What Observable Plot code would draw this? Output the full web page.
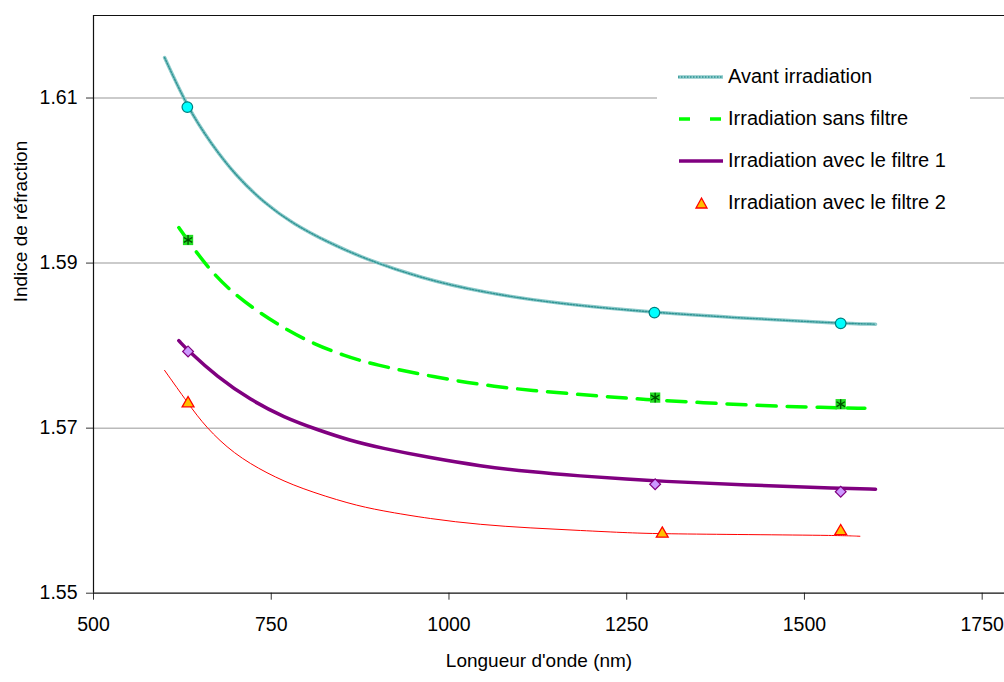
<!DOCTYPE html>
<html><head><meta charset="utf-8">
<script src="https://cdn.jsdelivr.net/npm/d3@7"></script>
<script src="https://cdn.jsdelivr.net/npm/@observablehq/plot@0.6"></script>
<style>
body{margin:0;background:#fff;font-family:"Liberation Sans",Arial,sans-serif;}
#wrap{position:relative;width:1004px;height:682px;}
#legend{position:absolute;left:657px;top:50px;width:313px;height:175px;background:#fff;}
.row{position:absolute;left:0;width:313px;height:30px;}
.row svg{position:absolute;left:0;top:0;}
.row span{position:absolute;left:71px;top:0;font-size:20px;line-height:30px;color:#000;white-space:nowrap;}
</style>
</head><body>
<div id="wrap"><div id="chart"></div><div id="legend"></div></div>
<script>
// ---- data ----
const seriesNames = ["Avant irradiation", "Irradiation sans filtre", "Irradiation avec le filtre 1", "Irradiation avec le filtre 2"];
const xTicks = [500, 750, 1000, 1250, 1500, 1750];
const yTicks = [1.55, 1.57, 1.59, 1.61];
const xLabel = "Longueur d'onde (nm)";
const yLabel = "Indice de réfraction";

// fitted curves
const avantCurveX = [600, 632, 665, 700, 740, 780, 830, 885, 960, 1044, 1150, 1288, 1420, 1551, 1600];
const avantCurveY = [1.6149, 1.6089, 1.6045, 1.6006, 1.5973, 1.5948, 1.5925, 1.5904, 1.5882, 1.5865, 1.5851, 1.5840, 1.5833, 1.5827, 1.5826];
const sansCurveX = [620, 633, 664, 697, 735, 772, 810, 852, 894, 978, 1063, 1152, 1239, 1290, 1354, 1442, 1527, 1585];
const sansCurveY = [1.5943, 1.5927, 1.5891, 1.5863, 1.5839, 1.5819, 1.5802, 1.5788, 1.5777, 1.5762, 1.5750, 1.5743, 1.5737, 1.5734, 1.5731, 1.5727, 1.5725, 1.5724];
const f1CurveX = [620, 633, 674, 721, 768, 815, 861, 904, 974, 1044, 1114, 1185, 1255, 1290, 1420, 1551, 1600];
const f1CurveY = [1.5806, 1.5794, 1.5762, 1.5734, 1.5713, 1.5698, 1.5685, 1.5676, 1.5664, 1.5654, 1.5647, 1.5642, 1.5638, 1.5636, 1.5631, 1.5627, 1.5626];
const f2CurveX = [600, 633, 658, 697, 744, 791, 861, 904, 974, 1044, 1114, 1185, 1255, 1300, 1420, 1551, 1578];
const f2CurveY = [1.5770, 1.5730, 1.5701, 1.5669, 1.5645, 1.5627, 1.5608, 1.5600, 1.5590, 1.5583, 1.5579, 1.5576, 1.5573, 1.5572, 1.5571, 1.5570, 1.5569];

// measured points
const avantPtsX = [632, 1289, 1551];
const avantPtsY = [1.6089, 1.5840, 1.5827];
const sansPtsX = [633, 1290, 1551];
const sansPtsY = [1.5928, 1.5737, 1.5729];
const f1PtsX = [633, 1290, 1551];
const f1PtsY = [1.5793, 1.5632, 1.5623];
const f2PtsX = [633, 1300, 1551];
const f2PtsY = [1.5730, 1.5572, 1.5575];

const rows = (xs, ys) => xs.map((x, i) => ({x, y: ys[i]}));
const avantC = rows(avantCurveX, avantCurveY), sansC = rows(sansCurveX, sansCurveY);
const f1C = rows(f1CurveX, f1CurveY), f2C = rows(f2CurveX, f2CurveY);
const avantP = rows(avantPtsX, avantPtsY), sansP = rows(sansPtsX, sansPtsY);
const f1P = rows(f1PtsX, f1PtsY), f2P = rows(f2PtsX, f2PtsY);

const curve = "basis";
const chart = Plot.plot({
  width: 1004, height: 682,
  marginLeft: 93, marginRight: 0, marginTop: 15, marginBottom: 89.3,
  x: {domain: [500, 1781.4]},
  y: {domain: [1.55, 1.62]},
  style: {fontFamily: "'Liberation Sans', Arial, sans-serif", fontSize: "19.5px", color: "#000", background: "#fff"},
  marks: [
    Plot.ruleY(yTicks.slice(1), {stroke: "#bababa", strokeWidth: 1.5}),
    Plot.axisX({ticks: xTicks, tickSize: 7, tickPadding: 17, tickFormat: d => String(d), label: null, fontSize: 19.5, stroke: "#333"}),
    Plot.axisY({ticks: yTicks, tickSize: 7, tickPadding: 9, tickFormat: d => d.toFixed(2), label: null, fontSize: 19.5, stroke: "#333"}),
    Plot.ruleX([500], {stroke: "#111", strokeWidth: 1.2}),
    Plot.ruleY([1.55, 1.62], {stroke: "#111", strokeWidth: 1.2}),
    Plot.line(avantC, {x: "x", y: "y", curve, stroke: "#8ccaca", strokeWidth: 3.5}),
    Plot.line(avantC, {x: "x", y: "y", curve, stroke: "#2f9494", strokeWidth: 1.4, strokeDasharray: "1.5,1.5"}),
    Plot.line(sansC, {x: "x", y: "y", curve, stroke: "#00ff00", strokeWidth: 3.5, strokeDasharray: "19,11"}),
    Plot.line(f1C, {x: "x", y: "y", curve, stroke: "#800080", strokeWidth: 3.5}),
    Plot.line(f2C, {x: "x", y: "y", curve, stroke: "#ff0000", strokeWidth: 1}),
    Plot.dot(avantP, {x: "x", y: "y", r: 5.3, fill: "#00ffff", stroke: "#007f7f", strokeWidth: 1.2}),
    Plot.dot(sansP, {x: "x", y: "y", symbol: "square", r: 5.8, fill: "#22dd22", stroke: "none"}),
    Plot.dot(sansP, {x: "x", y: "y", symbol: "asterisk", r: 4.6, stroke: "#005000", strokeWidth: 1.3}),
    Plot.dot(f1P, {x: "x", y: "y", symbol: "square", rotate: 45, r: 4.3, fill: "#cc99ff", stroke: "#800080", strokeWidth: 1.2}),
    Plot.dot(f2P, {x: "x", y: "y", symbol: "triangle", r: 4.4, fill: "#ffc000", stroke: "#ff0000", strokeWidth: 1.3}),
    Plot.text([xLabel], {text: d => d, frameAnchor: "bottom", dy: 74, dx: -10, fontSize: 19}),
    Plot.text([yLabel], {text: d => d, frameAnchor: "left", dx: -73, dy: -2, rotate: -90, fontSize: 19})
  ]
});
document.getElementById("chart").appendChild(chart);

// ---- legend (HTML overlay with white box) ----
const legend = document.getElementById("legend");
const swatches = [
  `<line x1="21" x2="66" y1="16" y2="16" stroke="#8ccaca" stroke-width="3.5"/><line x1="21" x2="66" y1="16" y2="16" stroke="#2f9494" stroke-width="1.4" stroke-dasharray="1.5,1.5"/>`,
  `<line x1="22" x2="66" y1="16" y2="16" stroke="#00ff00" stroke-width="3.5" stroke-dasharray="11,20"/>`,
  `<line x1="22" x2="66" y1="16" y2="16" stroke="#800080" stroke-width="3.5"/>`,
  `<path d="M44.5,11 L50,21 L39,21 Z" fill="#ffc000" stroke="#ff0000" stroke-width="1.3"/>`
];
const tops = [11, 53, 95, 137];
seriesNames.forEach((name, i) => {
  const row = document.createElement("div");
  row.className = "row";
  row.style.top = tops[i] + "px";
  row.innerHTML = `<svg width="71" height="30">${swatches[i]}</svg><span>${name}</span>`;
  legend.appendChild(row);
});
</script>
</body></html>
